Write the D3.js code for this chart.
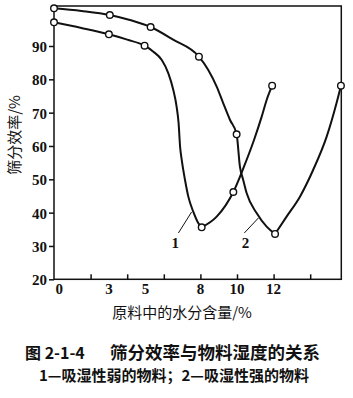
<!DOCTYPE html>
<html>
<head>
<meta charset="utf-8">
<script src="https://cdn.jsdelivr.net/npm/d3@7/dist/d3.min.js"></script>
<style>
  body { margin: 0; background: #fff; }
  svg { display: block; }
  .num { font-family: "Liberation Serif", "DejaVu Serif", serif; font-size: 15px; font-weight: bold; fill: #111; }
  .cjk { font-family: "Noto Sans CJK SC", sans-serif; fill: #111; }
</style>
</head>
<body>
<div id="chart"></div>
<script>
var w = 353, h = 398;

// Tick values and labels
var xTickValues = [2, 4, 6, 8, 10, 12, 14];
var xTickLabels = [0, 3, 5, 8, 10, 12];
var yTickValues = [20, 30, 40, 50, 60, 70, 80, 90];

// Curve 1 (吸湿性弱): marked points, plus points
var curve1Marks = [[0, 97.1], [3, 93.5], [4.95, 90.1], [8.07, 35.6], [9.8, 46.2], [11.92, 78.1]];
var curve1Trace = [[1.5, 95.4], [4, 91.9], [5.43, 88.3], [5.89, 85.8], [6.25, 81.8], [6.52, 76.8],
  [6.7, 71.8], [6.81, 66.8], [6.89, 59.8], [6.98, 55.8], [7.16, 49.8], [7.34, 44.8],
  [7.61, 40.3], [7.89, 36.8], [8.89, 38.8], [10.38, 53.8], [10.93, 61.8], [11.35, 68.8], [11.62, 73.8]];

// Curve 2 (吸湿性强)
var curve2Marks = [[0, 101.3], [3.05, 99.3], [5.28, 95.7], [7.92, 86.8], [9.98, 63.5], [12.08, 33.6], [15.68, 78.1]];
var curve2Trace = [[1.5, 100.5], [4.2, 97.7], [6.51, 91.9], [8.43, 82.8], [8.89, 77.8], [9.25, 72.8],
  [9.62, 67.8], [10.16, 53.8], [10.34, 49.8], [10.53, 45.8], [11.08, 39.8], [11.62, 35.8],
  [12.71, 38.8], [13.44, 44.8], [14.16, 52.8], [14.9, 62.8], [15.44, 72.9]];

// Curve number labels with their leader lines
var curveLabels = ["1", "2"];
var labelPos = [[6.63, 29.4], [10.46, 29.4]];
var leaderFrom = [[6.8, 33.9], [10.4, 33.9]];
var leaderTo = [[7.52, 40.2], [11.17, 38.4]];

var xScale = d3.scaleLinear().domain([0, 15.7]).range([54, 341.3]);
var yScale = d3.scaleLinear().domain([20, 102]).range([279.3, 6]);

var svg = d3.select("#chart").append("svg")
  .attr("width", w)
  .attr("height", h);

// Frame
svg.append("rect")
  .attr("x", xScale(0))
  .attr("y", yScale(102))
  .attr("width", xScale(15.7) - xScale(0))
  .attr("height", yScale(20) - yScale(102))
  .attr("fill", "none")
  .attr("stroke", "#111")
  .attr("stroke-width", 1.5);

// Y axis (outer ticks)
var yAxis = d3.axisLeft(yScale)
  .tickValues(yTickValues)
  .tickSize(5)
  .tickPadding(2)
  .tickFormat(d3.format("d"));

svg.append("g")
  .attr("class", "y_axis")
  .attr("transform", "translate(" + xScale(0) + ",0)")
  .call(yAxis)
  .call(function(g) {
    g.select(".domain").remove();
    g.selectAll(".tick line").attr("stroke", "#111").attr("stroke-width", 1.5);
    g.selectAll(".tick text").attr("class", "num").attr("dy", "0.36em");
  })
  .attr("font-family", null)
  .attr("font-size", null);

// X axis (inner ticks)
var xAxis = d3.axisBottom(xScale)
  .tickValues(xTickValues)
  .tickSize(-5)
  .tickFormat("");

svg.append("g")
  .attr("class", "x_axis")
  .attr("transform", "translate(0," + yScale(20) + ")")
  .call(xAxis)
  .call(function(g) {
    g.select(".domain").remove();
    g.selectAll(".tick line").attr("stroke", "#111").attr("stroke-width", 1.5);
  });

svg.append("g")
  .selectAll("text")
  .data(xTickLabels)
  .enter()
  .append("text")
  .attr("class", "num")
  .attr("x", function(d) { return d === 0 ? xScale(d) + 1.5 : xScale(d); })
  .attr("y", yScale(20) + 15)
  .attr("text-anchor", function(d) { return d === 0 ? "start" : "middle"; })
  .text(function(d) { return d; });

// Curves: each one is split at its lowest point, where the drawing has a corner
var line = d3.line()
  .x(function(d) { return xScale(d[0]); })
  .y(function(d) { return yScale(d[1]); })
  .curve(d3.curveMonotoneX);

function byX(a, b) { return a[0] - b[0]; }
var segments = [];
[[curve1Marks, curve1Trace], [curve2Marks, curve2Trace]].forEach(function(c) {
  var pts = c[0].concat(c[1]).sort(byX);
  var low = c[0][d3.minIndex(c[0], function(d) { return d[1]; })];
  var k = pts.indexOf(low);
  segments.push(pts.slice(0, k + 1));
  segments.push(pts.slice(k));
});

svg.append("g")
  .selectAll("path")
  .data(segments)
  .enter()
  .append("path")
  .attr("d", line)
  .attr("fill", "none")
  .attr("stroke", "#111")
  .attr("stroke-width", 2);

svg.append("g")
  .selectAll("circle")
  .data(curve1Marks.concat(curve2Marks))
  .enter()
  .append("circle")
  .attr("cx", function(d) { return xScale(d[0]); })
  .attr("cy", function(d) { return yScale(d[1]); })
  .attr("r", 3.3)
  .attr("fill", "#fff")
  .attr("stroke", "#111")
  .attr("stroke-width", 1.4);

// Leader lines and curve numbers
svg.append("g")
  .selectAll("line")
  .data(curveLabels)
  .enter()
  .append("line")
  .attr("x1", function(d, i) { return xScale(leaderFrom[i][0]); })
  .attr("y1", function(d, i) { return yScale(leaderFrom[i][1]); })
  .attr("x2", function(d, i) { return xScale(leaderTo[i][0]); })
  .attr("y2", function(d, i) { return yScale(leaderTo[i][1]); })
  .attr("stroke", "#111")
  .attr("stroke-width", 1);

svg.append("g")
  .selectAll("text")
  .data(curveLabels)
  .enter()
  .append("text")
  .attr("class", "num")
  .attr("x", function(d, i) { return xScale(labelPos[i][0]); })
  .attr("y", function(d, i) { return yScale(labelPos[i][1]); })
  .attr("text-anchor", "middle")
  .text(function(d) { return d; });

// Axis titles
svg.append("text")
  .attr("class", "cjk")
  .attr("transform", "translate(20,135) rotate(-90)")
  .attr("text-anchor", "middle")
  .style("font-size", "15px")
  .text("筛分效率/%");

svg.append("text")
  .attr("class", "cjk")
  .attr("x", 182)
  .attr("y", 318)
  .attr("text-anchor", "middle")
  .style("font-size", "15px")
  .text("原料中的水分含量/%");

// Caption
svg.append("text")
  .attr("class", "cjk")
  .attr("x", 25)
  .attr("y", 359)
  .style("font-size", "16px")
  .style("font-weight", "bold")
  .text("图 2-1-4");

svg.append("text")
  .attr("class", "cjk")
  .attr("x", 110)
  .attr("y", 359)
  .style("font-size", "17.5px")
  .style("font-weight", "bold")
  .text("筛分效率与物料湿度的关系");

svg.append("text")
  .attr("class", "cjk")
  .attr("x", 174)
  .attr("y", 381)
  .attr("text-anchor", "middle")
  .style("font-size", "15px")
  .style("font-weight", "bold")
  .text("1—吸湿性弱的物料；2—吸湿性强的物料");
</script>
</body>
</html>
